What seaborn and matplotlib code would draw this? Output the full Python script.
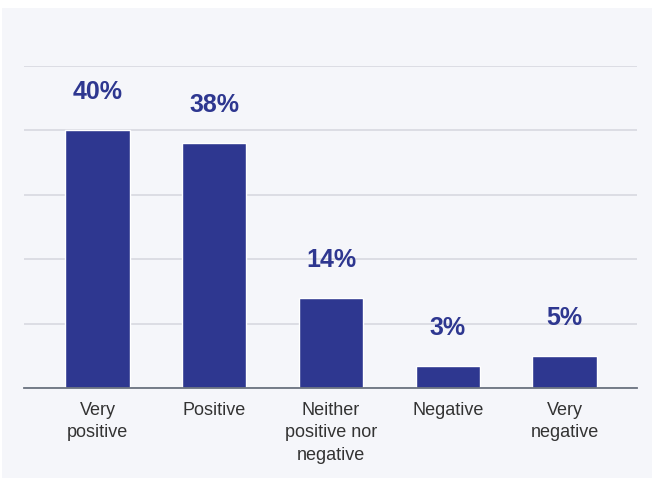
import matplotlib
matplotlib.use("Agg")
import matplotlib.pyplot as plt
import seaborn as sns
import pandas as pd
from matplotlib.patches import Rectangle

categories = ["Very\npositive", "Positive", "Neither\npositive nor\nnegative", "Negative", "Very\nnegative"]
values = [40, 38, 14, 3.4, 5]
value_labels = ["40%", "38%", "14%", "3%", "5%"]

sns.set_theme(style="white")
plt.rcParams['font.family'] = ['Liberation Sans', 'DejaVu Sans']

W, H = 652, 478
fig = plt.figure(figsize=(W / 100, H / 100), dpi=100)
fig.patch.set_facecolor("white")
panel_bg = "#f5f6fa"
fig.patches.append(Rectangle((2 / W, 0), (W - 2) / W, (H - 8) / H, transform=fig.transFigure,
                             facecolor=panel_bg, edgecolor="none", zorder=-10))

ax = fig.add_axes([24 / W, (H - 388) / H, (637 - 24) / W, (388 - 66) / H])
ax.set_zorder(5)
ax.set_facecolor(panel_bg)
ax.patch.set_alpha(0)

df = pd.DataFrame({"cat": categories, "val": values})
bar_color = "#2E3790"
sns.barplot(data=df, x="cat", y="val", color=bar_color, width=0.55, saturation=1, ax=ax, zorder=3)

ax.set_xlim(-0.63, 4.62)
ax.set_ylim(0, 50)
ax.set_yticks([0, 10, 20, 30, 40, 50])
ax.yaxis.grid(True, color="#dcdde4", linewidth=1.4, zorder=0)
ax.set_axisbelow(True)
ax.set_yticklabels([])
ax.tick_params(axis="y", length=0)
ax.set_xticks(range(len(categories)))
ax.set_xticklabels(categories, linespacing=1.42, fontsize=13, color="#333333")
ax.tick_params(axis="x", length=0, pad=10)
ax.set_xlabel("")
ax.set_ylabel("")
for s in ["top", "right", "left"]:
    ax.spines[s].set_visible(False)
ax.spines["bottom"].set_color("#6b7380")
ax.spines["bottom"].set_linewidth(1.3)
ax.spines["bottom"].set_zorder(4)

for i, (v, t) in enumerate(zip(values, value_labels)):
    ax.annotate(t, (i, v), xytext=(0, 22.3), textcoords="offset points",
                ha="center", va="baseline", fontsize=18, fontweight="bold",
                color=bar_color, clip_on=False, zorder=5)

fig.savefig("out.png", dpi=100, facecolor=fig.get_facecolor())
